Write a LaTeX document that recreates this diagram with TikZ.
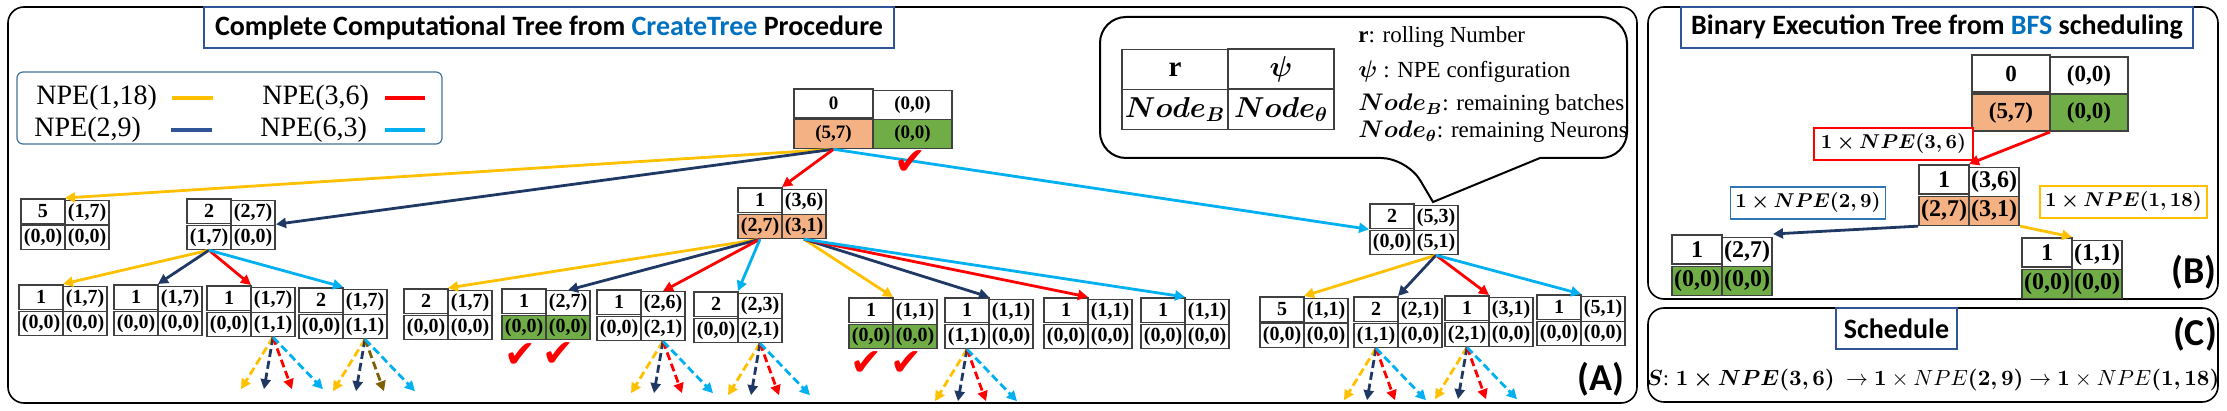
\documentclass[tikz,border=0pt]{standalone}
\usepackage{fontspec}
\setmainfont{Liberation Serif}
\newfontfamily\headfont{Carlito}
\newfontfamily\checkfont{DejaVu Sans}
\usepackage{bm}
\usepackage{tikz}
\usetikzlibrary{matrix,arrows.meta,positioning}
\definecolor{npeY}{RGB}{255,192,0}
\definecolor{npeB}{RGB}{32,56,100}
\definecolor{npeR}{RGB}{255,0,0}
\definecolor{npeC}{RGB}{0,176,240}
\definecolor{npeO}{RGB}{127,96,0}
\definecolor{cellO}{RGB}{244,177,131}
\definecolor{cellG}{RGB}{112,173,71}
\definecolor{headblue}{RGB}{0,112,192}
\definecolor{boxblue}{RGB}{47,85,151}
\definecolor{legblue}{RGB}{65,113,156}
\definecolor{labblue}{RGB}{46,117,182}
\tikzstyle{tcell}=[draw=black!75,fill=white,line width=0.6pt,minimum width=22pt,minimum height=12.2pt,inner sep=0pt,font=\fontsize{10}{10}\selectfont\bfseries]
\tikzstyle{tnode}=[matrix of nodes,nodes={tcell},column sep=-0.6pt,row sep=-0.6pt,inner sep=0pt,anchor=north west,ampersand replacement=\&]
\tikzstyle{rootbox}=[nodes={minimum width=39.5pt,minimum height=14.5pt,font=\fontsize{9.5}{9.5}\selectfont\bfseries}]
\tikzstyle{bigbox}=[nodes={minimum width=39pt,minimum height=18.5pt,font=\fontsize{11.5}{11.5}\selectfont\bfseries}]
\tikzstyle{midbox}=[nodes={minimum width=25pt,minimum height=14.5pt,font=\fontsize{12}{12}\selectfont\bfseries}]
\tikzstyle{keybox}=[nodes={minimum width=53pt,minimum height=20pt,font=\fontsize{14.5}{14.5}\selectfont\bfseries}]
\tikzstyle{arr}=[-{Triangle[length=5pt,width=5pt]},line width=1.4pt]
\tikzstyle{dasharr}=[arr,dash pattern=on 4pt off 2pt]
\tikzstyle{panel}=[draw,line width=0.8pt,rounded corners=8pt]
\tikzstyle{headbox}=[draw=boxblue,fill=white,line width=0.6pt,inner sep=0pt,minimum height=20.5pt,font=\headfont\bfseries\fontsize{14}{14}\selectfont]
\tikzstyle{panellabel}=[inner sep=0pt,font=\headfont\bfseries\fontsize{19}{19}\selectfont]
\tikzstyle{legtext}=[anchor=west,inner sep=0pt,font=\fontsize{14}{14}\selectfont]
\tikzstyle{legline}=[line width=2pt]
\tikzstyle{keytext}=[anchor=west,inner sep=0pt,font=\fontsize{11.5}{11.5}\selectfont]
\tikzstyle{tick}=[text=npeR,inner sep=0pt,text height=13pt,text depth=0pt,font=\checkfont\fontsize{19}{19}\selectfont]
\tikzstyle{lab}=[fill=white,line width=0.6pt,minimum height=16pt,inner sep=0pt,font=\fontsize{10}{10}\selectfont]

\newcommand{\treebox}[9][]{%
  \matrix[tnode,#1] (#2) at #3 {%
    #4 \& #5 \\
    |[fill=#8]| #6 \& |[fill=#9]| #7 \\
  };}

\begin{document}
\begin{tikzpicture}[x=0.5pt,y=-0.5pt]
\useasboundingbox (0,0) rectangle (2227,411);

\draw[panel] (8,7) rectangle (1637,403);
\draw[panel] (1648,7) rectangle (2218,299);
\draw[panel] (1648,308) rectangle (2218,402);

\node[headbox,minimum width=345pt] (headA) at (549,27.5)
  {Complete Computational Tree from \textcolor{headblue}{CreateTree} Procedure};
\node[headbox,minimum width=256pt] (headB) at (1937,27.5)
  {Binary Execution Tree from \textcolor{headblue}{BFS} scheduling};
\node[headbox,minimum width=60.5pt] (headC) at (1896.5,328.5) {Schedule};
\node[panellabel] (labA) at (1601,379) {(A)};
\node[panellabel] (labB) at (2194,272) {(B)};
\node[panellabel] (labC) at (2195,334) {(C)};

\draw[draw=legblue,line width=0.6pt,rounded corners=3pt] (17,72) rectangle (442,144);
\node[legtext] (leg1) at (36,98) {NPE(1,18)};
\node[legtext] (leg2) at (34,130) {NPE(2,9)};
\node[legtext] (leg3) at (262,98) {NPE(3,6)};
\node[legtext] (leg4) at (260,130) {NPE(6,3)};
\draw[legline,npeY] (172,98) -- (213,98);
\draw[legline,boxblue] (171,130) -- (212,130);
\draw[legline,npeR] (385,98) -- (425,98);
\draw[legline,npeC] (385,130) -- (425,130);

\draw[line width=1pt,fill=white] (1540,158) [rounded corners=13pt] -- (1627,158) -- (1627,17)
  -- (1100,17) -- (1100,158) -- (1407,158) [sharp corners] -- (1433,202) -- cycle;
\treebox[keybox]{key}{(1121,48)}{r}{$\bm\psi$}{$\bm{Node_B}$}{$\bm{Node_\theta}$}{white}{white}
\node[keytext] (key1) at (1358,37) {\textbf{r}: rolling Number};
\node[keytext] (key2) at (1358,72) {$\bm\psi$ : NPE configuration};
\node[keytext] (key3) at (1358,105) {$\bm{Node_B}$: remaining batches};
\node[keytext] (key4) at (1358,132) {$\bm{Node_\theta}$: remaining Neurons};

\treebox[rootbox]{r0}{(793,88)}{0}{(0,0)}{(5,7)}{(0,0)}{cellO}{cellG}
\treebox{a1}{(20,198)}{5}{(1,7)}{(0,0)}{(0,0)}{white}{white}
\treebox{a2}{(186,198)}{2}{(2,7)}{(1,7)}{(0,0)}{white}{white}
\treebox{a3}{(737,187)}{1}{(3,6)}{(2,7)}{(3,1)}{cellO}{cellO}
\treebox{a4}{(1369,203)}{2}{(5,3)}{(0,0)}{(5,1)}{white}{white}
\treebox{b1}{(18,284)}{1}{(1,7)}{(0,0)}{(0,0)}{white}{white}
\treebox{b2}{(113,284)}{1}{(1,7)}{(0,0)}{(0,0)}{white}{white}
\treebox{b3}{(206,285)}{1}{(1,7)}{(0,0)}{(1,1)}{white}{white}
\treebox{b4}{(298,287)}{2}{(1,7)}{(0,0)}{(1,1)}{white}{white}
\treebox{c1}{(403,288)}{2}{(1,7)}{(0,0)}{(0,0)}{white}{white}
\treebox{c2}{(501,288)}{1}{(2,7)}{(0,0)}{(0,0)}{cellG}{cellG}
\treebox{c3}{(596,289)}{1}{(2,6)}{(0,0)}{(2,1)}{white}{white}
\treebox{c4}{(693,291)}{2}{(2,3)}{(0,0)}{(2,1)}{white}{white}
\treebox{c5}{(848,297)}{1}{(1,1)}{(0,0)}{(0,0)}{cellG}{cellG}
\treebox{c6}{(944,297)}{1}{(1,1)}{(1,1)}{(0,0)}{white}{white}
\treebox{c7}{(1043,297)}{1}{(1,1)}{(0,0)}{(0,0)}{white}{white}
\treebox{c8}{(1140,297)}{1}{(1,1)}{(0,0)}{(0,0)}{white}{white}
\treebox{d1}{(1259,296)}{5}{(1,1)}{(0,0)}{(0,0)}{white}{white}
\treebox{d2}{(1353,296)}{2}{(2,1)}{(1,1)}{(0,0)}{white}{white}
\treebox{d3}{(1444,295)}{1}{(3,1)}{(2,1)}{(0,0)}{white}{white}
\treebox{d4}{(1536,294)}{1}{(5,1)}{(0,0)}{(0,0)}{white}{white}

\foreach \t/\c/\a in {a1/npeY/north,a2/npeB/east,a3/npeR/north,a4/npeC/west}
  \draw[arr,color=\c] (r0-2-1.south) -- (\t.\a);
\foreach \t/\c in {b1/npeY,b2/npeB,b3/npeR,b4/npeC}
  \draw[arr,color=\c] (a2-2-1.south) -- (\t.north);
\foreach \t/\c in {c1/npeY,c2-1-2/npeB,c3-1-2/npeR,c4/npeC}
  \draw[arr,color=\c] (a3-2-1.south) -- (\t.north);
\foreach \t/\c in {c5/npeY,c6/npeB,c7/npeR,c8/npeC}
  \draw[arr,color=\c] (a3-2-2.south) -- (\t.north);
\foreach \t/\c in {d1/npeY,d2/npeB,d3/npeR,d4/npeC}
  \draw[arr,color=\c] (a4-2-2.south) -- (\t.north);

\foreach \s/\cc in {b3-2-2/npeR,b4-2-2/npeO,c3-2-2/npeR,c4-2-2/npeR,c6-2-1/npeR,d2-2-1/npeR,d3-2-1/npeR}
  \foreach \dx/\c [count=\i] in {-32/npeY,-9/npeB,19/\cc,50/npeC} {
    \path (\s.south) ++(\dx,52) coordinate (\s-e\i);
    \draw[dasharr,color=\c] (\s.south) -- (\s-e\i);
  }

\foreach \x/\y [count=\i] in {910/162,520/354,558/353,866/362,906/362}
  \node[tick] (tick\i) at (\x,\y) {✔};

\treebox[bigbox]{rB}{(1971,54)}{0}{(0,0)}{(5,7)}{(0,0)}{cellO}{cellG}
\treebox[midbox]{B1}{(1918,164)}{1}{(3,6)}{(2,7)}{(3,1)}{cellO}{cellO}
\treebox[midbox]{B2}{(1671,234)}{1}{(2,7)}{(0,0)}{(0,0)}{cellG}{cellG}
\treebox[midbox]{B3}{(2021,237)}{1}{(1,1)}{(0,0)}{(0,0)}{cellG}{cellG}
\node[lab,draw=npeR,minimum width=79.5pt] (labR) at (1893.5,144) {$\bm{1\times NPE(3,6)}$};
\node[lab,draw=labblue,minimum width=77.5pt] (labN) at (1808,203) {$\bm{1\times NPE(2,9)}$};
\node[lab,draw=npeY,minimum width=83.5pt] (labY) at (2123.5,202) {$\bm{1\times NPE(1,18)}$};
\draw[arr,npeR] (rB.south) -- (B1.north);
\draw[arr,npeB] (B1.south west) -- (B2.north east);
\draw[arr,npeY] (B1.south east) -- (B3.north);

\node[font=\fontsize{10.5}{10.5}\selectfont] (sched) at (1933,380)
  {$\bm{S}$: $\bm{1\times NPE(3,6)}\ \to\bm{1}\times NPE\bm{(2,9)}\to\bm{1}\times NPE\bm{(1,18)}$};
\end{tikzpicture}
\end{document}
